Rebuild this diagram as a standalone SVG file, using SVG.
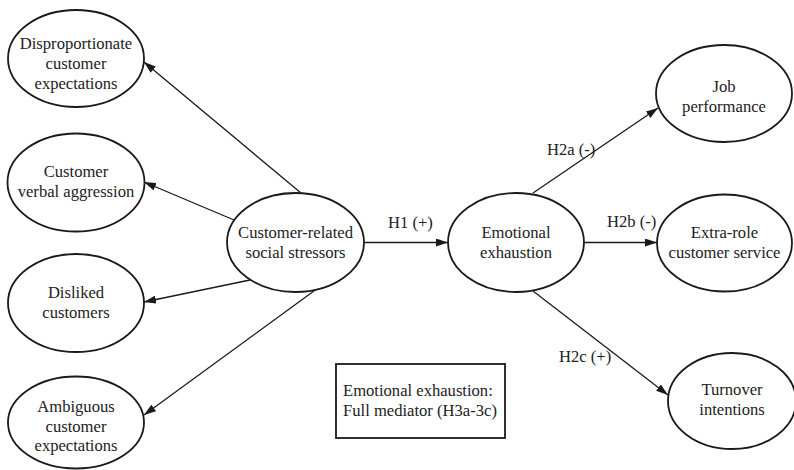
<svg xmlns="http://www.w3.org/2000/svg" width="794" height="470" viewBox="0 0 794 470">
<style>
.n ellipse{fill:#fff;stroke:#1a1a1a;stroke-width:1.8}
text{font-family:"Liberation Serif","Times New Roman",serif;font-size:16.6px;fill:#222;text-anchor:middle}
.c line{stroke:#1a1a1a;stroke-width:1.3;fill:none}
.lbl{text-anchor:start}
</style>
<defs>
<marker id="ah" viewBox="0 0 12 8" refX="12" refY="4" markerWidth="12" markerHeight="8" markerUnits="userSpaceOnUse" orient="auto">
<path d="M0,0 L12,4 L0,8 Z" fill="#1a1a1a"/>
</marker>
</defs>
<rect width="794" height="470" fill="#fff"/>
<g id="connectors" class="c">
<line x1="301" y1="193" x2="144" y2="62" marker-end="url(#ah)"/>
<line x1="234" y1="220" x2="144" y2="182" marker-end="url(#ah)"/>
<line x1="250" y1="280" x2="144" y2="302" marker-end="url(#ah)"/>
<line x1="318" y1="288" x2="144" y2="415" marker-end="url(#ah)"/>
<line x1="364" y1="242.5" x2="448" y2="242.5" marker-end="url(#ah)"/>
<line x1="533" y1="193" x2="658" y2="108" marker-end="url(#ah)"/>
<line x1="584" y1="242.5" x2="657" y2="242.5" marker-end="url(#ah)"/>
<line x1="533" y1="291" x2="668" y2="395" marker-end="url(#ah)"/>
<text class="lbl" x="388" y="228">H1 (+)</text>
<text class="lbl" x="547" y="155">H2a (-)</text>
<text class="lbl" x="607" y="227">H2b (-)</text>
<text class="lbl" x="559" y="362">H2c (+)</text>
</g>
<g id="disproportionate" class="n">
<ellipse cx="76" cy="58.5" rx="68" ry="48.5"/>
<text x="76" y="49">Disproportionate</text>
<text x="76" y="69">customer</text>
<text x="76" y="89">expectations</text>
</g>
<g id="verbal-aggression" class="n">
<ellipse cx="76" cy="182.5" rx="68.5" ry="49"/>
<text x="76" y="177">Customer</text>
<text x="76" y="197">verbal aggression</text>
</g>
<g id="disliked" class="n">
<ellipse cx="76" cy="303" rx="68" ry="49"/>
<text x="76" y="298">Disliked</text>
<text x="76" y="318">customers</text>
</g>
<g id="ambiguous" class="n">
<ellipse cx="76" cy="422.5" rx="68" ry="46"/>
<text x="76" y="412">Ambiguous</text>
<text x="76" y="432">customer</text>
<text x="76" y="451">expectations</text>
</g>
<g id="stressors" class="n">
<ellipse cx="295.5" cy="242.5" rx="68.5" ry="49.5"/>
<text x="295.5" y="238">Customer-related</text>
<text x="295.5" y="258">social stressors</text>
</g>
<g id="exhaustion" class="n">
<ellipse cx="516" cy="242.5" rx="68" ry="49.5"/>
<text x="516" y="238">Emotional</text>
<text x="516" y="258">exhaustion</text>
</g>
<g id="job-performance" class="n">
<ellipse cx="724" cy="93.5" rx="68" ry="48.5"/>
<text x="724" y="92">Job</text>
<text x="724" y="112">performance</text>
</g>
<g id="extra-role" class="n">
<ellipse cx="724.5" cy="243" rx="67.5" ry="48.5"/>
<text x="724.5" y="238">Extra-role</text>
<text x="724.5" y="258">customer service</text>
</g>
<g id="turnover" class="n">
<ellipse cx="732" cy="401" rx="64" ry="48"/>
<text x="732" y="395">Turnover</text>
<text x="732" y="415">intentions</text>
</g>
<g id="mediator-box">
<rect x="336" y="364" width="169" height="74" fill="#fff" stroke="#1a1a1a" stroke-width="1.8"/>
<text class="lbl" x="343" y="396">Emotional exhaustion:</text>
<text class="lbl" x="343" y="416">Full mediator (H3a-3c)</text>
</g>
</svg>
